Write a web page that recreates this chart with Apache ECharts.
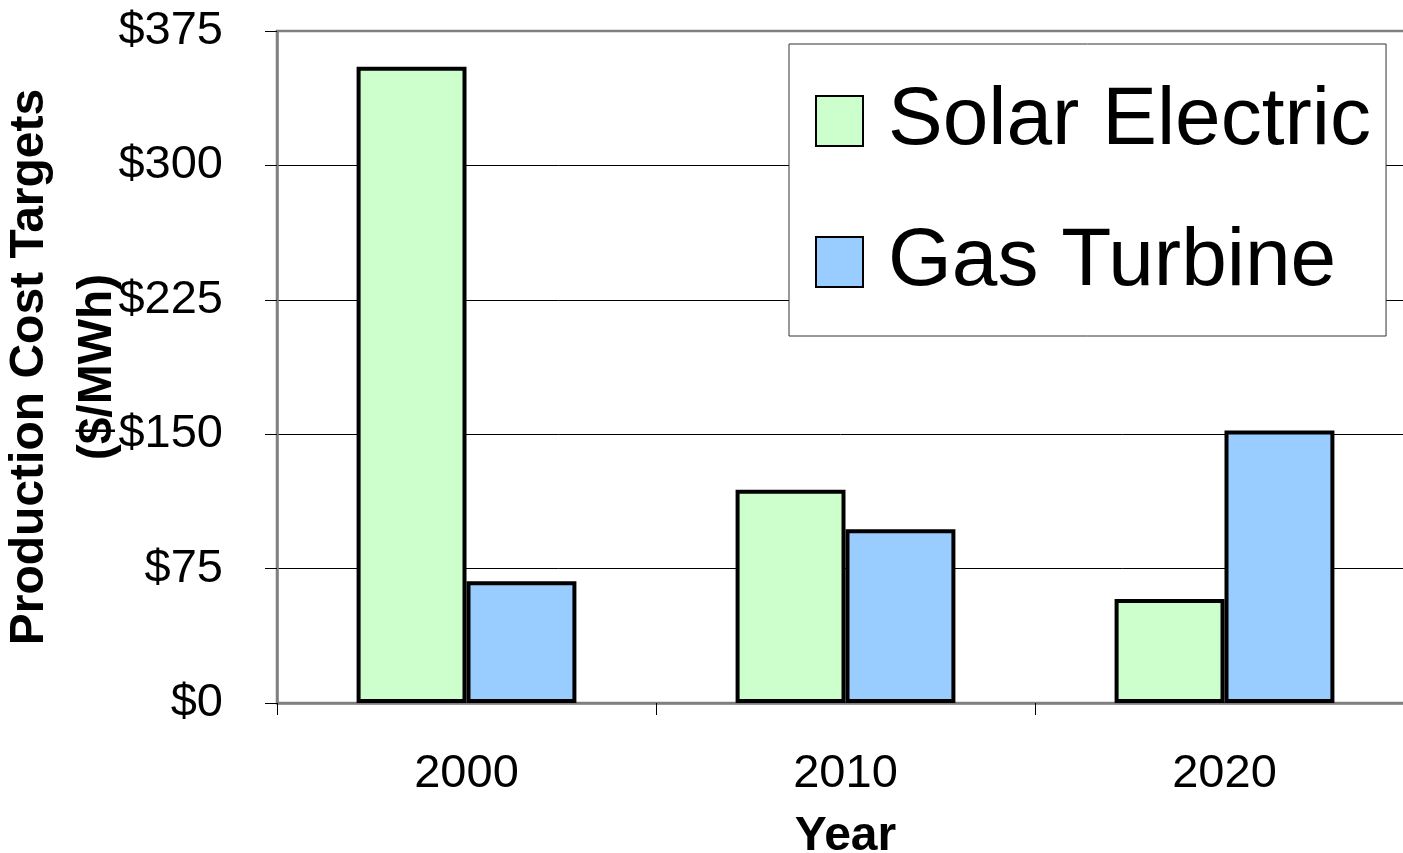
<!DOCTYPE html>
<html>
<head>
<meta charset="utf-8">
<script src="https://cdn.jsdelivr.net/npm/echarts@6/dist/echarts.min.js"></script>
<style>
  html, body { margin: 0; padding: 0; background: #fff; }
  #chart { width: 1403px; height: 853px; }
</style>
</head>
<body>
<div id="chart"></div>
<script>
// data
const years = ["2000", "2010", "2020"];
const solarElectric = [355, 119, 58];
const gasTurbine = [68, 97, 152];
const seriesNames = ["Solar Electric", "Gas Turbine"];

const FONT = "Liberation Sans, Arial, sans-serif";

const chart = echarts.init(document.getElementById("chart"));

const option = {
    animation: false,
    backgroundColor: "#fff",
    textStyle: { fontFamily: FONT },
    grid: {
        left: 277,
        top: 31,
        right: -11, // plot runs past the right edge of the picture
        bottom: 150,
        outerBoundsMode: "none",
        show: true,
        borderColor: "#808080",
        borderWidth: 2.5,
        backgroundColor: "transparent",
    },
    legend: {
        orient: "vertical",
        left: 789,
        top: 44,
        data: seriesNames,
        icon: "rect",
        itemWidth: 47,
        itemHeight: 50,
        itemGap: 59,
        backgroundColor: "#fff",
        borderColor: "#333",
        borderWidth: 1,
        padding: [36, 15, 33, 26],
        textStyle: {
            fontFamily: FONT,
            fontSize: 82,
            lineHeight: 76,
            color: "#000",
            padding: [0, 0, 0, 20],
        },
    },
    xAxis: {
        type: "category",
        data: years,
        name: "Year",
        nameLocation: "middle",
        nameGap: 110,
        nameTextStyle: {
            fontFamily: FONT,
            fontSize: 48,
            fontWeight: "bold",
            color: "#000",
        },
        axisLine: { lineStyle: { color: "#808080", width: 2.5 } },
        axisTick: { show: true, length: 12, lineStyle: { color: "#000", width: 1 } },
        axisLabel: { fontSize: 47, color: "#000", margin: 48, fontFamily: FONT },
    },
    yAxis: {
        type: "value",
        min: 0,
        max: 375,
        interval: 75,
        name: "Production Cost Targets\n($/MWh)",
        nameLocation: "middle",
        nameRotate: 90,
        nameGap: 145,
        nameMoveOverlap: false, // the title sits over the labels in the original
        nameTextStyle: {
            fontFamily: FONT,
            fontSize: 48,
            fontWeight: "bold",
            lineHeight: 68,
            color: "#000",
            align: "center",
        },
        axisLine: { show: true, lineStyle: { color: "#808080", width: 2.5 } },
        axisTick: { show: true, length: 12, lineStyle: { color: "#000", width: 1 } },
        axisLabel: {
            fontSize: 47,
            color: "#000",
            margin: 54,
            fontFamily: FONT,
            formatter: function (v) { return "$" + v; },
        },
        splitLine: {
            show: true,
            // top line is the gray plot border
            lineStyle: { color: ["#000", "#000", "#000", "#000", "#000", "#808080"], width: 1 },
        },
    },
    series: [
        {
            name: seriesNames[0],
            type: "bar",
            data: solarElectric,
            barGap: "0%",
            barCategoryGap: "42%",
            itemStyle: { color: "#CCFFCC", borderColor: "#000", borderWidth: 4 },
        },
        {
            name: seriesNames[1],
            type: "bar",
            data: gasTurbine,
            itemStyle: { color: "#99CCFF", borderColor: "#000", borderWidth: 4 },
        },
    ],
};

chart.setOption(option);
</script>
</body>
</html>
